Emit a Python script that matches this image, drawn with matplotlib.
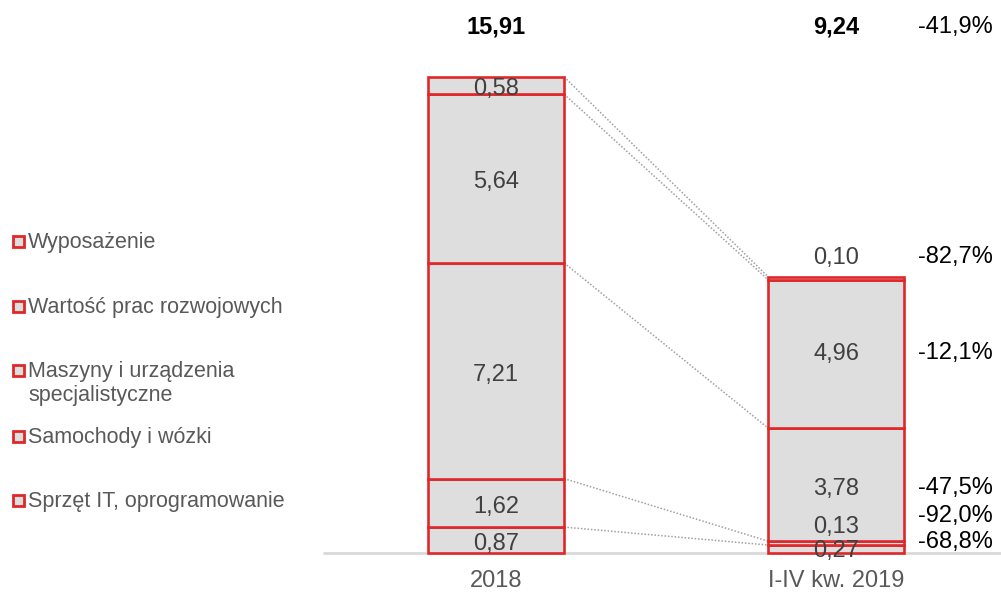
import matplotlib
matplotlib.use("Agg")
import matplotlib.pyplot as plt
from matplotlib.patches import Rectangle

plt.rcParams["font.family"] = ["Liberation Sans", "DejaVu Sans"]

# ── Data ────────────────────────────────────────────────────────────────────
periods = ["2018", "I-IV kw. 2019"]
categories = [
    "Sprzęt IT, oprogramowanie",
    "Samochody i wózki",
    "Maszyny i urządzenia\nspecjalistyczne",
    "Wartość prac rozwojowych",
    "Wyposażenie",
]
vals_2018 = [0.87, 1.62, 7.21, 5.64, 0.58]
vals_2019 = [0.27, 0.13, 3.78, 4.96, 0.10]
totals = ["15,91", "9,24"]
change_pct = [-68.8, -92.0, -47.5, -12.1, -82.7]
total_change = -41.9

# ── Style ───────────────────────────────────────────────────────────────────
RED = "#E0282A"
FILL = "#DEDEDE"
LABEL = "#404040"
GREY_TXT = "#595959"
BAR_W = 0.40
FS = 17


def fmt(v, nd=2):
    return f"{v:.{nd}f}".replace(".", ",")


fig = plt.figure(figsize=(10.01, 5.92), dpi=100)
ax = fig.add_axes([0, 0, 1, 1])
ax.set_xlim(-1.459, 1.485)
ax.set_ylim(-1.30, 18.49)
ax.axis("off")

# baseline
ax.plot([-0.51, 1.485], [0, 0], color="#D9D9D9", lw=2, zorder=1,
        solid_capstyle="butt")

tops = []
for xi, vals in enumerate([vals_2018, vals_2019]):
    bottom = 0
    seg_tops = []
    for v in vals:
        ax.add_patch(Rectangle((xi - BAR_W / 2, bottom), BAR_W, v,
                               facecolor=FILL, edgecolor=RED, lw=1.9, zorder=3))
        bottom += v
        seg_tops.append(bottom)
    tops.append(seg_tops)

# dotted connectors between segment tops
for t0, t1 in zip(tops[0], tops[1]):
    ax.plot([BAR_W / 2, 1 - BAR_W / 2], [t0, t1], color="#A0A0A0",
            lw=1.1, ls=(0, (1, 1.2)), zorder=2)

# segment labels – 2018 centred in segments
bottom = 0
for v in vals_2018:
    ax.text(0, bottom + v / 2 - 0.13, fmt(v), ha="center", va="center",
            fontsize=FS, color=LABEL, zorder=5)
    bottom += v

# 2019 labels (small segments moved off the bar)
label_y_2019 = [0.07, 0.88, 2.13, 6.66, 9.86]
for v, y in zip(vals_2019, label_y_2019):
    ax.text(1, y, fmt(v), ha="center", va="center", fontsize=FS,
            color=LABEL, zorder=5)

# change labels on the right
pct_y = [0.36, 1.23, 2.16, 6.70, 9.90]
for p, y in zip(change_pct, pct_y):
    ax.text(1.24, y, fmt(p, 1) + "%", ha="left", va="center",
            fontsize=FS, color="black")

# totals
for xi, t in enumerate(totals):
    ax.text(xi, 17.6, t, ha="center", va="center", fontsize=FS,
            fontweight="bold", color="black")
ax.text(1.24, 17.6, fmt(total_change, 1) + "%", ha="left", va="center",
        fontsize=FS, color="black")

# x labels
for xi, p in enumerate(periods):
    ax.text(xi, -0.94, p, ha="center", va="center", fontsize=FS,
            color=GREY_TXT)

# legend on the left (top to bottom)
marker_y = [241, 306, 370, 436, 500]
for cat, py in zip(reversed(categories), marker_y):
    fy = 1 - py / 592
    fig.patches.append(Rectangle((12.5 / 1001, fy - 5.5 / 592), 11 / 1001, 11 / 592,
                                 transform=fig.transFigure, facecolor=FILL,
                                 edgecolor=RED, lw=2))
    fig.text(28 / 1001, fy + 9 / 592, cat, ha="left", va="top",
             fontsize=15.5, color=GREY_TXT, linespacing=1.2)

fig.savefig("out.png", dpi=100)
